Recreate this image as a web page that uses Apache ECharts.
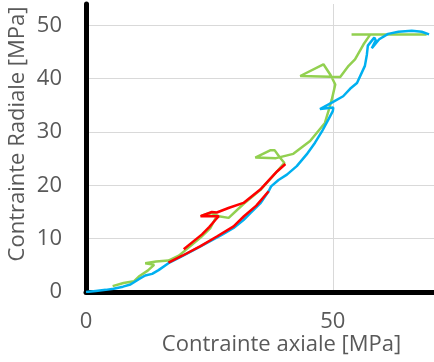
<!DOCTYPE html>
<html>
<head>
<meta charset="utf-8">
<script src="https://cdn.jsdelivr.net/npm/echarts@6/dist/echarts.min.js"></script>
<style>
html,body{margin:0;padding:0;background:#fff;}
#chart{width:434px;height:362px;}
</style>
</head>
<body>
<div id="chart"></div>
<script>
// Axis texts
var xTitle = "Contrainte axiale [MPa]";
var yTitle = "Contrainte Radiale [MPa]";

// Blue series (axial, radial)
var blueX = [0, 2, 4, 5.6, 7.5, 9, 10.7, 12, 13.4, 14.7, 16.7, 19, 21.5, 24.5, 27.5, 29.9, 31.9, 33.3, 35.3, 37, 37.5, 39, 40.7, 42.7, 44.7, 46.4, 47.8, 48.9, 50, 50.1, 47.4, 49.8, 52.1, 53.5, 54.9, 56.5, 56.9, 57.1, 58.4, 58.7, 57.9, 59.4, 61.2, 63.3, 66, 68, 69.5];
var blueY = [0, 0.2, 0.4, 0.6, 1.0, 1.4, 2.4, 3.1, 3.4, 4.1, 5.4, 6.5, 7.7, 9.2, 10.7, 12, 13.5, 14.8, 16.6, 18.9, 19.8, 21, 22, 23.6, 25.8, 28, 30.1, 32, 33.9, 34.6, 34.3, 35.5, 36.7, 38.1, 39.2, 42.4, 44.5, 46.2, 47.7, 47.2, 45.7, 47.4, 48.4, 48.8, 49, 48.8, 48.3];

// Green series
var greenX = [5.4, 7.6, 9.7, 10.7, 12.5, 13.8, 12.0, 14.2, 16.7, 18.8, 20.1, 23.2, 25.2, 26.5, 23.4, 25.5, 26.9, 28.9, 31.9, 35.3, 38.6, 40.2, 39.2, 38.2, 37.4, 34.3, 38.5, 42, 45.4, 48.4, 49.3, 49.8, 50.5, 49.6, 48.1, 43.4, 51.5, 53.2, 54.5, 56.2, 57.6, 53.8, 69];
var greenY = [1.1, 1.7, 2.0, 2.9, 4.0, 5.1, 5.4, 5.7, 5.9, 6.8, 7.8, 10.2, 12, 14.3, 14.3, 14.9, 14.2, 13.9, 16.5, 19.1, 22.5, 24.2, 25.3, 26.6, 26.6, 25.2, 25.1, 25.9, 28.3, 31.7, 34.5, 36.1, 38.9, 40.6, 42.7, 40.5, 40.3, 42.4, 43.6, 46.4, 48.3, 48.3, 48.3];

// Red series: lower branch and upper branch
var redLowX = [16.7, 19.5, 23.2, 26.5, 29.9, 32, 34.5, 37];
var redLowY = [5.5, 6.8, 8.6, 10.4, 12.3, 14.2, 16.2, 18.9];
var redUpX = [19.8, 21.5, 23.5, 25, 26.2, 26.9, 23.2, 25.5, 26.5, 29, 31.9, 35.3, 38.7, 40.4];
var redUpY = [8.0, 9.3, 10.8, 12.2, 13.5, 14.2, 14.2, 15.0, 14.9, 15.8, 16.7, 19.2, 22.6, 24.0];

function pairs(xs, ys) { return xs.map(function (x, i) { return [x, ys[i]]; }); }

var gray = '#595959';
var font = 'Open Sans';
var chart = echarts.init(document.getElementById('chart'), null, {renderer: 'canvas'});

function lineSeries(name, xs, ys, color) {
  return {
    name: name, type: 'line', data: pairs(xs, ys), symbol: 'none',
    lineStyle: {color: color, width: 2.5}, animation: false, z: 3
  };
}

chart.setOption({
  animation: false,
  grid: {left: 86, right: 0, top: 4, bottom: 70, containLabel: false},
  xAxis: {
    type: 'value', min: 0, max: 70.5, interval: 50,
    axisLine: {show: true, onZero: false, lineStyle: {color: '#000', width: 5}},
    axisTick: {show: false},
    axisLabel: {color: gray, fontSize: 22, fontFamily: font, margin: 19, showMaxLabel: false},
    splitLine: {show: true, showMaxLine: false, lineStyle: {color: '#d9d9d9', width: 1}}
  },
  yAxis: {
    type: 'value', min: 0, max: 54, interval: 10,
    axisLine: {show: true, onZero: false, lineStyle: {color: '#000', width: 5}},
    axisTick: {show: false},
    axisLabel: {color: gray, fontSize: 22, fontFamily: font, margin: 24, showMaxLabel: false},
    splitLine: {show: true, showMaxLine: false, lineStyle: {color: '#d9d9d9', width: 1}}
  },
  series: [
    lineSeries('green', greenX, greenY, '#92D050'),
    lineSeries('blue', blueX, blueY, '#00B0F0'),
    lineSeries('red-low', redLowX, redLowY, '#FF0000'),
    lineSeries('red-up', redUpX, redUpY, '#FF0000')
  ],
  graphic: [
    {type: 'text', x: 281.5, y: 345, style: {text: xTitle, fill: gray, font: '22px "Open Sans"', align: 'center', verticalAlign: 'middle'}},
    {type: 'text', x: 18, y: 134, rotation: Math.PI / 2, style: {text: yTitle, fill: gray, font: '22px "Open Sans"', align: 'center', verticalAlign: 'middle'}}
  ]
});
</script>
</body>
</html>
